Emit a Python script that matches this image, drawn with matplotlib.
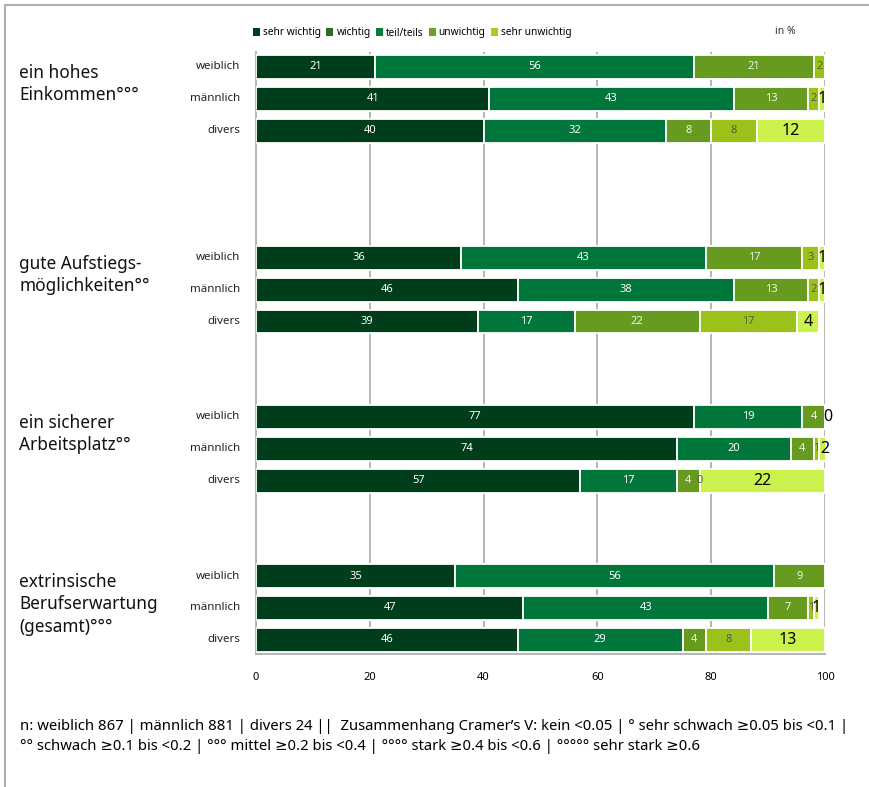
import numpy as np
import matplotlib
matplotlib.use("Agg")
import matplotlib.pyplot as plt
from matplotlib.patches import Patch
from matplotlib.lines import Line2D

plt.rcParams["font.family"] = ["Noto Sans", "DejaVu Sans"]

# answer categories (legend)
levels = ["sehr wichtig", "wichtig", "teil/teils", "unwichtig", "sehr unwichtig"]
groups = ["weiblich", "männlich", "divers"]

items = [
    "ein hohes\nEinkommen°°°",
    "gute Aufstiegs-\nmöglichkeiten°°",
    "ein sicherer\nArbeitsplatz°°",
    "extrinsische\nBerufserwartung\n(gesamt)°°°",
]

# values in % per item, rows = weiblich / männlich / divers, nan = not shown
einkommen = [
    [21, 56, 21, 2, np.nan],
    [41, 43, 13, 2, 1],
    [40, 32, 8, 8, 12],
]
aufstieg = [
    [36, 43, 17, 3, 1],
    [46, 38, 13, 2, 1],
    [39, 17, 22, 17, 4],
]
arbeitsplatz = [
    [77, 19, 4, 0.5, 0],
    [74, 20, 4, 1, 2],
    [57, 17, 4, 0, 22],
]
extrinsisch = [
    [35, 56, 9, np.nan, np.nan],
    [47, 43, 7, 1, 1],
    [46, 29, 4, 8, 13],
]
all_values = [einkommen, aufstieg, arbeitsplatz, extrinsisch]

bar_colors = ["#003d1b", "#00763a", "#669b1f", "#9dc11b", "#ccf24d"]
legend_colors = ["#003d1b", "#2f6a2a", "#00803c", "#6aa32a", "#a9cc1f"]
label_colors = ["white", "white", "#eef3e6", "#4d6140", "black"]
label_sizes = [8, 8, 8, 8, 11.5]

group_start = [0, 6, 11, 16]

fig = plt.figure(figsize=(8.69, 7.87), dpi=100)
ax = fig.add_axes([256 / 869, 1 - 654 / 787, (825 - 256) / 869, (654 - 52) / 787])

for gi, vals in enumerate(all_values):
    for ri, row in enumerate(vals):
        y = group_start[gi] + ri
        left = 0.0
        for ci, v in enumerate(row):
            if np.isnan(v):
                continue
            ax.barh(y, v, left=left, height=0.75, color=bar_colors[ci],
                    edgecolor="white", linewidth=1.3, zorder=3)
            # slivers below 1 % get no label of their own
            if not (0 < v < 1):
                ax.text(left + v / 2, y, f"{int(round(v))}", ha="center", va="center",
                        color=label_colors[ci], fontsize=label_sizes[ci], zorder=4)
            left += v
        ax.text(-0.028, y, groups[ri], transform=ax.get_yaxis_transform(),
                ha="right", va="center", fontsize=8.3, color="#222222")
    ax.text(-0.416, group_start[gi] - 0.1, items[gi], transform=ax.get_yaxis_transform(),
            ha="left", va="top", fontsize=12.4, linespacing=1.32, color="#111111")

ax.set_xlim(0, 100)
ax.set_ylim(18.45, -0.47)
ax.set_xticks([0, 20, 40, 60, 80, 100])
ax.set_yticks([])
ax.tick_params(axis="x", length=0, labelsize=8, pad=13)
ax.xaxis.grid(True, color="#b5b5b5", linewidth=1.4, zorder=0)
ax.set_axisbelow(True)
for s in ["top", "right"]:
    ax.spines[s].set_visible(False)
for s in ["left", "bottom"]:
    ax.spines[s].set_color("#b5b5b5")
    ax.spines[s].set_linewidth(1.4)

handles = [Patch(facecolor=c, edgecolor="none") for c in legend_colors]
fig.legend(handles, levels, loc="center left", bbox_to_anchor=(248 / 869, 1 - 33 / 787),
           ncol=5, frameon=False, fontsize=7.3, handlelength=0.7, handleheight=0.7,
           handletextpad=0.3, columnspacing=0.5, borderpad=0)
fig.text(775 / 869, 1 - 31 / 787, "in %", fontsize=7.5, va="center", color="#333333")

footer = [
    "n: weiblich 867 | männlich 881 | divers 24 ||  Zusammenhang Cramer’s V: kein <0.05 | ° sehr schwach ≥0.05 bis <0.1 |",
    "°° schwach ≥0.1 bis <0.2 | °°° mittel ≥0.2 bis <0.4 | °°°° stark ≥0.4 bis <0.6 | °°°°° sehr stark ≥0.6",
]
for i, line in enumerate(footer):
    fig.text(20 / 869, 1 - (726 + 20 * i) / 787, line, fontsize=10.7, va="center")

# frame lines of the original graphic
fig.add_artist(Line2D([5 / 869, 1], [1 - 5 / 787, 1 - 5 / 787], color="#b0b0b0", lw=1.5))
fig.add_artist(Line2D([5 / 869, 5 / 869], [0, 1 - 5 / 787], color="#b0b0b0", lw=1.5))

fig.savefig("out.png", dpi=100)
